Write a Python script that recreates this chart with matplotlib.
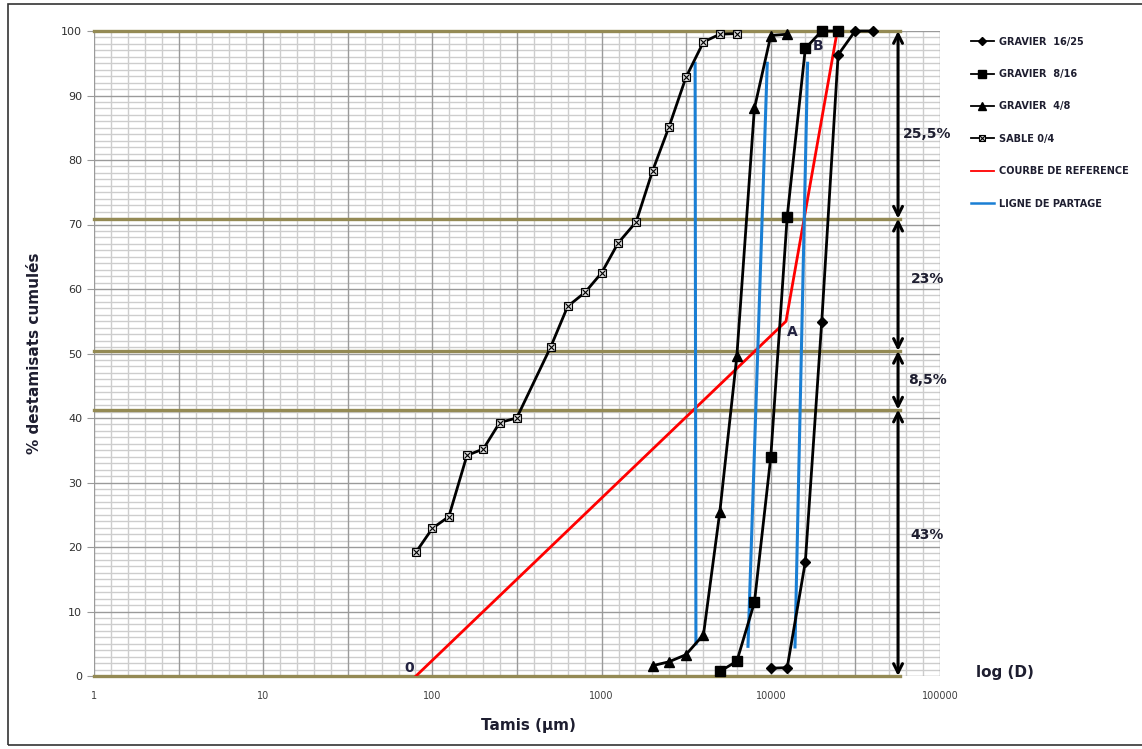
import numpy as np
import matplotlib.pyplot as plt
from matplotlib.legend_handler import HandlerTuple
from matplotlib.lines import Line2D
from matplotlib.patches import Rectangle

# sieve openings (µm) and cumulative passing (%)
sable_d = [80, 100, 125, 160, 200, 250, 315, 500, 630, 800, 1000, 1250, 1600, 2000, 2500, 3150, 4000, 5000, 6300]
sable_p = [19.2, 22.9, 24.7, 34.2, 35.2, 39.3, 40.0, 51.0, 57.3, 59.5, 62.5, 67.1, 70.4, 78.3, 85.1, 92.8, 98.3, 99.5, 99.6]

g48_d = [2000, 2500, 3150, 4000, 5000, 6300, 8000, 10000, 12500]
g48_p = [1.6, 2.2, 3.3, 6.4, 25.5, 49.6, 88.0, 99.3, 99.5]

g816_d = [5000, 6300, 8000, 10000, 12500, 16000, 20000, 25000]
g816_p = [0.7, 2.3, 11.4, 34.0, 71.2, 97.3, 100, 100]

g1625_d = [10000, 12500, 16000, 20000, 25000, 31500, 40000]
g1625_p = [1.2, 1.3, 17.7, 54.9, 96.3, 100, 100]

ref_d = [80, 12300, 24700]
ref_p = [0, 55, 100]

partage = [([3570, 3610], [95, 5]), ([9530, 7330], [95, 4.6]), ([16500, 13900], [95, 4.5])]

limites = [100, 70.9, 50.4, 41.3, 0]
pourcent = ['25,5%', '23%', '8,5%', '43%']
pourcent_y = [84.0, 61.5, 45.9, 21.8]

fig = plt.figure(figsize=(11.42, 7.49), dpi=100)
ax = fig.add_axes([94/1142, 1-676/749, 846/1142, 645/749])
ax.set_xscale('log')
ax.set_xlim(1, 100000)
ax.set_ylim(0, 100)
for s in ax.spines.values():
    s.set_visible(False)

ax.set_yticks(np.arange(0, 101, 10))
ax.set_yticks(np.arange(0, 101, 1), minor=True)
ax.set_xticks([1, 10, 100, 1000, 10000, 100000])
ax.set_xticks([], minor=True)
ax.set_xticklabels(['1', '10', '100', '1000', '10000', '100000'])
ax.grid(axis='y', which='major', color='#9a9a9a', lw=1.0)
ax.grid(axis='y', which='minor', color='#cdcdcd', lw=1.0)
# excel-like vertical grid: every 1/10 decade, darker every half decade
for k in range(0, 51):
    c = '#9a9a9a' if k % 5 == 0 else '#cdcdcd'
    ax.axvline(10 ** (k / 10), color=c, lw=1.0, zorder=0.5 if k % 5 else 0.6)
ax.set_axisbelow(True)
ax.tick_params(axis='x', which='both', length=0, labelsize=7, colors='#404040', pad=11)
ax.tick_params(axis='y', which='minor', length=0)
ax.tick_params(axis='y', which='major', length=5, color='#9a9a9a', labelsize=8, labelcolor='#303030')

for y in limites:
    ax.plot([1, 58000], [y, y], color='#948a54', lw=2.4, clip_on=False, zorder=2)

st16 = dict(color='black', marker='D', ms=5)
st8 = dict(color='black', marker='s', ms=7)
st4 = dict(color='black', marker='^', ms=7)
stsa = dict(color='black', marker='s', ms=6, mfc='#d8d8d8', mec='black', mew=0.8)
stx = dict(ls='none', marker='x', ms=5, color='black', mew=0.8)

ax.plot(g1625_d, g1625_p, lw=2, clip_on=False, zorder=4, **st16)
ax.plot(g816_d, g816_p, lw=2, clip_on=False, zorder=4, **st8)
ax.plot(g48_d, g48_p, lw=2, clip_on=False, zorder=4, **st4)
ax.plot(sable_d, sable_p, lw=2, clip_on=False, zorder=4, **stsa)
ax.plot(sable_d, sable_p, clip_on=False, zorder=5, **stx)
ax.plot(ref_d, ref_p, color='#ff0000', lw=2, zorder=3)
for xs, ys in partage:
    ax.plot(xs, ys, color='#1a7fd4', lw=2.2, zorder=3)

xa = 56500
for top, bot in zip(limites[:-1], limites[1:]):
    ax.annotate('', xy=(xa, bot), xytext=(xa, top),
                arrowprops=dict(arrowstyle='<->', lw=2.2, color='black', mutation_scale=16, shrinkA=0, shrinkB=0),
                annotation_clip=False)
for lab, ym in zip(pourcent, pourcent_y):
    ax.text(84000, ym, lab, ha='center', va='center', fontsize=10, fontweight='bold', color='#1e1e30')

ax.text(78, 1.3, '0', ha='right', va='center', fontsize=10, fontweight='bold', color='#222240')
ax.text(12400, 53.3, 'A', ha='left', va='center', fontsize=10, fontweight='bold', color='#222240')
ax.text(19000, 97.7, 'B', ha='center', va='center', fontsize=10, fontweight='bold', color='#222240')

ax.set_xlabel('Tamis (µm)', fontsize=11, fontweight='bold', color='#1e1e30')
ax.set_ylabel('% destamisats cumulés', fontsize=11, fontweight='bold', color='#1e1e30')
ax.xaxis.set_label_coords(0.513, -0.065)
ax.yaxis.set_label_coords(-0.062, 0.5)

fig.text(1005/1142, 1-673/749, 'log (D)', ha='center', va='center', fontsize=11, fontweight='bold', color='#1e1e30')

# legend proxies with thinner lines, like the excel legend
h16 = Line2D([], [], lw=1.3, **dict(st16, ms=4))
h8 = Line2D([], [], lw=1.3, **dict(st8, ms=5.5))
h4 = Line2D([], [], lw=1.3, **dict(st4, ms=5.5))
hsa = Line2D([], [], lw=1.3, **dict(stsa, ms=5))
hx = Line2D([], [], **dict(stx, ms=4))
hr = Line2D([], [], color='#ff0000', lw=1.3)
hb = Line2D([], [], color='#1a7fd4', lw=1.8)
fig.legend([h16, h8, h4, (hsa, hx), hr, hb],
           ['GRAVIER  16/25', 'GRAVIER  8/16', 'GRAVIER  4/8', 'SABLE 0/4', 'COURBE DE REFERENCE', 'LIGNE DE PARTAGE'],
           handler_map={tuple: HandlerTuple(ndivide=1, pad=0)},
           loc='upper left', bbox_to_anchor=(962/1142, 1-28/749), frameon=False,
           prop={'size': 7, 'weight': 'bold'}, labelcolor='#1e1e30',
           labelspacing=2.3, handlelength=2.4, handletextpad=0.5)

fig.patches.append(Rectangle((8/1142, 4/749), 1140/1142, 741/749, transform=fig.transFigure,
                             fill=False, ec='#333333', lw=1.2))

fig.savefig('out.png', dpi=100)
